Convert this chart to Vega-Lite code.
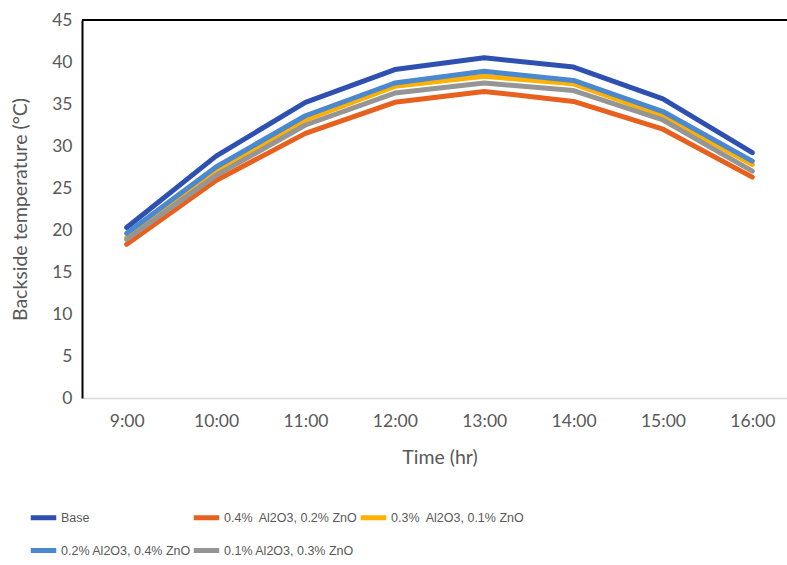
{
  "$schema": "https://vega.github.io/schema/vega-lite/v6.json",
  "autosize": {"type": "none"},
  "padding": {"left": 82, "top": 20, "right": 0, "bottom": 167},
  "width": 715,
  "height": 378,
  "config": {
    "font": "Lato",
    "view": {"stroke": null},
    "background": "white"
  },
  "data": {
    "values": [
      {"time": "9:00", "series": "Base", "temp": 20.3},
      {"time": "10:00", "series": "Base", "temp": 28.8},
      {"time": "11:00", "series": "Base", "temp": 35.2},
      {"time": "12:00", "series": "Base", "temp": 39.1},
      {"time": "13:00", "series": "Base", "temp": 40.5},
      {"time": "14:00", "series": "Base", "temp": 39.4},
      {"time": "15:00", "series": "Base", "temp": 35.6},
      {"time": "16:00", "series": "Base", "temp": 29.2},
      {"time": "9:00", "series": "0.4%\u00a0 Al2O3, 0.2% ZnO", "temp": 18.3},
      {"time": "10:00", "series": "0.4%\u00a0 Al2O3, 0.2% ZnO", "temp": 25.9},
      {"time": "11:00", "series": "0.4%\u00a0 Al2O3, 0.2% ZnO", "temp": 31.5},
      {"time": "12:00", "series": "0.4%\u00a0 Al2O3, 0.2% ZnO", "temp": 35.2},
      {"time": "13:00", "series": "0.4%\u00a0 Al2O3, 0.2% ZnO", "temp": 36.5},
      {"time": "14:00", "series": "0.4%\u00a0 Al2O3, 0.2% ZnO", "temp": 35.3},
      {"time": "15:00", "series": "0.4%\u00a0 Al2O3, 0.2% ZnO", "temp": 32.0},
      {"time": "16:00", "series": "0.4%\u00a0 Al2O3, 0.2% ZnO", "temp": 26.3},
      {"time": "9:00", "series": "0.3%\u00a0 Al2O3, 0.1% ZnO", "temp": 19.1},
      {"time": "10:00", "series": "0.3%\u00a0 Al2O3, 0.1% ZnO", "temp": 27.0},
      {"time": "11:00", "series": "0.3%\u00a0 Al2O3, 0.1% ZnO", "temp": 33.1},
      {"time": "12:00", "series": "0.3%\u00a0 Al2O3, 0.1% ZnO", "temp": 37.1},
      {"time": "13:00", "series": "0.3%\u00a0 Al2O3, 0.1% ZnO", "temp": 38.3},
      {"time": "14:00", "series": "0.3%\u00a0 Al2O3, 0.1% ZnO", "temp": 37.4},
      {"time": "15:00", "series": "0.3%\u00a0 Al2O3, 0.1% ZnO", "temp": 33.6},
      {"time": "16:00", "series": "0.3%\u00a0 Al2O3, 0.1% ZnO", "temp": 27.8},
      {"time": "9:00", "series": "0.2% Al2O3, 0.4% ZnO", "temp": 19.6},
      {"time": "10:00", "series": "0.2% Al2O3, 0.4% ZnO", "temp": 27.5},
      {"time": "11:00", "series": "0.2% Al2O3, 0.4% ZnO", "temp": 33.6},
      {"time": "12:00", "series": "0.2% Al2O3, 0.4% ZnO", "temp": 37.5},
      {"time": "13:00", "series": "0.2% Al2O3, 0.4% ZnO", "temp": 38.9},
      {"time": "14:00", "series": "0.2% Al2O3, 0.4% ZnO", "temp": 37.8},
      {"time": "15:00", "series": "0.2% Al2O3, 0.4% ZnO", "temp": 34.1},
      {"time": "16:00", "series": "0.2% Al2O3, 0.4% ZnO", "temp": 28.2},
      {"time": "9:00", "series": "0.1% Al2O3, 0.3% ZnO", "temp": 18.9},
      {"time": "10:00", "series": "0.1% Al2O3, 0.3% ZnO", "temp": 26.5},
      {"time": "11:00", "series": "0.1% Al2O3, 0.3% ZnO", "temp": 32.5},
      {"time": "12:00", "series": "0.1% Al2O3, 0.3% ZnO", "temp": 36.3},
      {"time": "13:00", "series": "0.1% Al2O3, 0.3% ZnO", "temp": 37.5},
      {"time": "14:00", "series": "0.1% Al2O3, 0.3% ZnO", "temp": 36.6},
      {"time": "15:00", "series": "0.1% Al2O3, 0.3% ZnO", "temp": 33.1},
      {"time": "16:00", "series": "0.1% Al2O3, 0.3% ZnO", "temp": 27.0}
    ]
  },
  "layer": [
    {
      "mark": {"type": "rule", "color": "#000000", "strokeWidth": 2},
      "encoding": {"y": {"datum": 45, "type": "quantitative"}}
    },
    {
      "mark": {"type": "line", "strokeWidth": 5, "strokeCap": "round", "strokeJoin": "round"},
      "encoding": {
        "x": {
          "field": "time",
          "type": "ordinal",
          "sort": ["9:00", "10:00", "11:00", "12:00", "13:00", "14:00", "15:00", "16:00"],
          "scale": {"type": "point", "padding": 0.5},
          "title": "Time (hr)",
          "axis": {
            "labelAngle": 0,
            "labelFontSize": 17.5,
            "labelColor": "#595959",
            "labelPadding": 14,
            "ticks": false,
            "domainColor": "#d9d9d9",
            "domainWidth": 1.5,
            "grid": false,
            "titleFontSize": 19.5,
            "titleFontWeight": "normal",
            "titleColor": "#595959",
            "titlePadding": 19
          }
        },
        "y": {
          "field": "temp",
          "type": "quantitative",
          "scale": {"domain": [0, 45], "nice": false},
          "title": "Backside temperature (°C)",
          "axis": {
            "values": [0, 5, 10, 15, 20, 25, 30, 35, 40, 45],
            "labelFontSize": 17.5,
            "labelColor": "#595959",
            "labelPadding": 10,
            "ticks": false,
            "domainColor": "#000000",
            "domainWidth": 2,
            "gridColor": "#d9d9d9",
            "gridWidth": 1.5,
            "titleFontSize": 19.5,
            "titleFontWeight": "normal",
            "titleColor": "#595959",
            "titleX": -62,
            "titleY": 189,
            "titleAngle": -90,
            "titleAlign": "center",
            "titleBaseline": "middle"
          }
        },
        "color": {
          "field": "series",
          "type": "nominal",
          "sort": ["Base", "0.4%\u00a0 Al2O3, 0.2% ZnO", "0.3%\u00a0 Al2O3, 0.1% ZnO", "0.2% Al2O3, 0.4% ZnO", "0.1% Al2O3, 0.3% ZnO"],
          "scale": {
            "domain": ["Base", "0.4%\u00a0 Al2O3, 0.2% ZnO", "0.3%\u00a0 Al2O3, 0.1% ZnO", "0.2% Al2O3, 0.4% ZnO", "0.1% Al2O3, 0.3% ZnO"],
            "range": ["#2E50B0", "#E8601E", "#FFB000", "#4A88D0", "#959595"]
          },
          "legend": {
            "title": null,
            "orient": "none",
            "legendX": -54,
            "legendY": 482,
            "direction": "horizontal",
            "columns": 3,
            "gridAlign": "each",
            "symbolType": "stroke",
            "symbolSize": 650,
            "symbolStrokeWidth": 5,
            "labelFont": "Liberation Sans",
            "labelFontSize": 12.5,
            "labelColor": "#595959",
            "labelOffset": 2,
            "rowPadding": 7,
            "columnPadding": -8,
            "labelLimit": 300
          }
        },
        "order": {"field": "series"}
      }
    }
  ]
}
